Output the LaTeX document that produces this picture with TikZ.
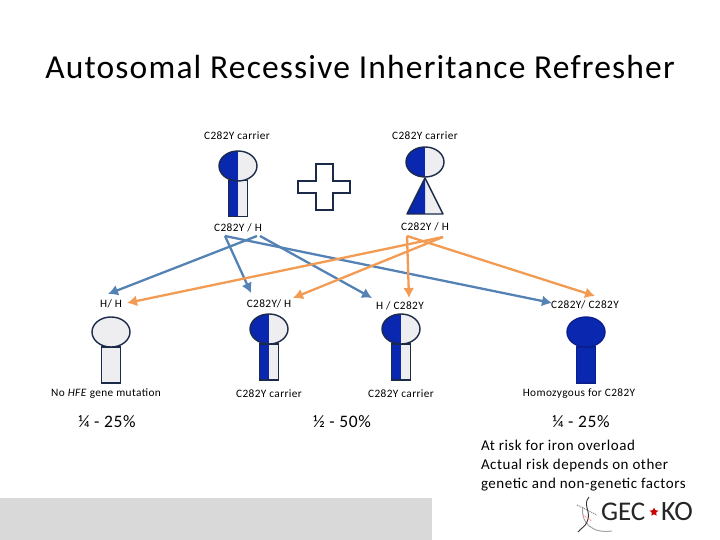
\documentclass[tikz,border=0pt]{standalone}
\usepackage{fontspec}
\setmainfont{Carlito}
\newfontfamily\spacedfont[LetterSpace=3.5]{Carlito}
\usetikzlibrary{arrows.meta, positioning, shapes, calc}
\definecolor{figblue}{HTML}{0A27B0}
\definecolor{figlight}{HTML}{EEEEF0}
\definecolor{figline}{HTML}{1B2A49}
\definecolor{arrblue}{HTML}{5582B4}
\definecolor{arrorange}{HTML}{F39B53}
\begin{document}
\begin{tikzpicture}[
    x=1pt, y=-1pt,
    every node/.style={inner sep=0pt, outer sep=0pt},
    label/.style={font=\spacedfont\fontsize{11.3}{13}\selectfont},
    percent/.style={font=\spacedfont\fontsize{17.5}{20}\selectfont},
    head/.style={ellipse, draw=figline, line width=1.4pt, fill=figlight, minimum width=38pt, minimum height=30pt},
    body/.style={rectangle, draw=figline, line width=1.4pt, fill=figlight, minimum width=19pt, minimum height=36pt},
    halfhead/.style={head, path picture={\fill[figblue] (path picture bounding box.north west) rectangle (path picture bounding box.south);}},
    halfbody/.style={body, path picture={\fill[figblue] (path picture bounding box.north west) rectangle (path picture bounding box.south);}},
    fullhead/.style={head, draw=figblue!80!black, fill=figblue},
    fullbody/.style={body, draw=figblue!80!black, fill=figblue},
    blueline/.style={-{Latex[length=10pt,width=11pt]}, arrblue, line width=2.3pt},
    orangeline/.style={-{Latex[length=10pt,width=11pt]}, arrorange, line width=2.3pt}
    ]
    \useasboundingbox (0,0) rectangle (720,540);

    % Footer band
    \fill[black!15] (0,498) rectangle (432,540);

    % Title
    \node[font=\spacedfont\fontsize{33.5}{40}\selectfont] (title) at (360,67) {Autosomal Recessive Inheritance Refresher};

    % Father
    \node[label] (fatherlabel) at (237,136) {C282Y carrier};
    \node[halfbody] (fatherbody) at (238,198.5) {};
    \node[halfhead] (fatherhead) at (238,166) {};
    \node[label] (fathergeno) at (238,228) {C282Y / H};

    % Mother
    \node[label] (motherlabel) at (425,136) {C282Y carrier};
    \fill[figlight] (425,178) -- (443,214) -- (407,214) -- cycle;
    \fill[figblue] (425,178) -- (425,214) -- (407,214) -- cycle;
    \draw[figline, line width=1.4pt, line join=round] (425,178) -- (443,214) -- (407,214) -- cycle;
    \node[halfhead] (motherhead) at (425,162) {};
    \node[label] (mothergeno) at (425,227) {C282Y / H};

    % Plus
    \draw[figline, line width=2.6pt, fill=white] (316,164) -- (333,164) -- (333,181) -- (350,181) -- (350,193) -- (333,193) -- (333,210) -- (316,210) -- (316,193) -- (298,193) -- (298,181) -- (316,181) -- cycle;

    % Child 1
    \node[label] (geno1) at (111,304) {H/ H};
    \node[body] (body1) at (111,365) {};
    \node[head] (head1) at (111,332) {};
    \node[label] (cap1) at (106,394) {No \textit{HFE} gene mutation};
    \node[percent] (pct1) at (107,422) {¼ - 25\%};

    % Child 2
    \node[label] (geno2) at (269,304) {C282Y/ H};
    \node[halfbody] (body2) at (269,362) {};
    \node[halfhead] (head2) at (269,329) {};
    \node[label] (cap2) at (269,394) {C282Y carrier};

    % Child 3
    \node[label] (geno3) at (400,306) {H / C282Y};
    \node[halfbody] (body3) at (401,362) {};
    \node[halfhead] (head3) at (401,329) {};
    \node[label] (cap3) at (401,394) {C282Y carrier};
    \node[percent] (pct2) at (342,422) {½ - 50\%};

    % Child 4
    \node[label] (geno4) at (585,305) {C282Y/ C282Y};
    \node[fullbody] (body4) at (586,365) {};
    \node[fullhead] (head4) at (586,332) {};
    \node[label] (cap4) at (579,394) {Homozygous for C282Y};
    \node[percent] (pct3) at (581,422) {¼ - 25\%};

    % Arrow ends
    \coordinate (fa) at (225,236);
    \coordinate (fb) at (257,236);
    \coordinate (fc) at (260,236);
    \coordinate (ma) at (407,236);
    \coordinate (mb) at (443,237);

    \draw[blueline] (fb) -- (108,294);
    \draw[blueline] (fa) -- (251,293);
    \draw[blueline] (fc) -- (372,298);
    \draw[blueline] (fa) -- (552,303);
    \draw[orangeline] (mb) -- (127,303);
    \draw[orangeline] (mb) -- (293,298);
    \draw[orangeline] (ma) -- (409,298);
    \draw[orangeline] (ma) -- (595,296);

    % Risk note
    \node[font=\spacedfont\fontsize{15}{19}\selectfont, align=left, anchor=north west] (note) at (481,440) {At risk for iron overload\\Actual risk depends on other\\genetic and non-genetic factors};

    % Logo
    \node[font=\fontsize{27}{30}\selectfont, anchor=west, text=black!85] (gec) at (601,512) {GEC};
    \node[font=\fontsize{28}{30}\selectfont, anchor=west, text=black!85] (ko) at (661,512) {KO};
    \node[star, star points=5, star point ratio=2, fill=red!80!black, minimum size=9pt] (leaf) at (654,512) {};
    \draw[black!35, line width=1pt] (583,507) .. controls (580,522) and (592,534) .. (612,531);
    \draw[black!80, line width=0.9pt] (589,497) .. controls (582,505) and (592,512) .. (587,522) .. controls (585,527) and (581,528) .. (578,532);
    \draw[black!50, densely dotted, line width=1pt] (577,505) -- (597,515);
    \draw[red!40, densely dotted, line width=1.2pt] (583,515) -- (592,521);

\end{tikzpicture}
\end{document}
